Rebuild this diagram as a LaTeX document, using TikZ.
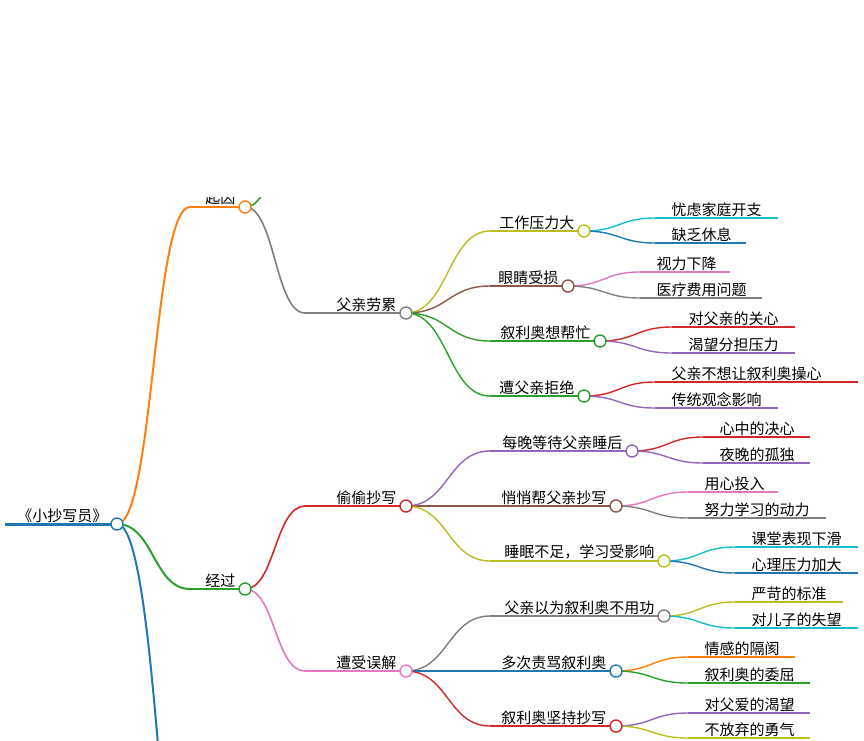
\documentclass[tikz,border=0pt]{standalone}
\usepackage{fontspec}
\setmainfont{Noto Sans CJK SC}
\usetikzlibrary{calc}
\definecolor{cblue}{HTML}{1F77B4}
\definecolor{corange}{HTML}{FF7F0E}
\definecolor{cgreen}{HTML}{2CA02C}
\definecolor{cred}{HTML}{D62728}
\definecolor{cpurple}{HTML}{9467BD}
\definecolor{cbrown}{HTML}{8C564B}
\definecolor{cpink}{HTML}{E377C2}
\definecolor{cgray}{HTML}{7F7F7F}
\definecolor{colive}{HTML}{BCBD22}
\definecolor{ccyan}{HTML}{17BECF}
\newcommand\mmbranch[7]{% name x1 x2 y color width text
  \coordinate (#1-s) at (#2,#4);
  \coordinate (#1) at (#3,#4);
  \draw[#5,line width=#6] (#1-s) -- (#1);
  \node[lbl,anchor=south east] (#1-t) at ({#3-8},#4) {#7};}
\newcommand\mmleaf[6]{% name x1 x2 y color text
  \coordinate (#1-s) at (#2,#4);
  \coordinate (#1) at (#3,#4);
  \draw[#5,line width=1.4pt] (#1-s) -- (#1);
  \node[lbl,anchor=south west] (#1-t) at ({#2+15},#4) {#6};}
\newcommand\mmconn[4]{% parent child color width
  \draw[#3,line width=#4] let \p1=(#1), \p2=(#2-s) in
    (\p1) .. controls ({0.5*\x1+0.5*\x2},\y1) and ({0.5*\x1+0.5*\x2},\y2) .. (\p2);}
\newcommand\mmdot[2]{\draw[#2,line width=1.4pt,fill=white] (#1) circle (6);}
\begin{document}
\begin{tikzpicture}[x=1pt,y=-1pt,lbl/.style={inner sep=1.5pt,font=\fontsize{15}{17}\selectfont}]
\useasboundingbox (0,0) rectangle (864,740);
\fill[white] (0,0) rectangle (864,740);
\clip (0,197) rectangle (864,740);
% nodes
\mmbranch{root}{5}{117}{524}{cblue}{3pt}{《小抄写员》}
\mmbranch{qy}{190}{245}{207}{corange}{2pt}{起因}
\coordinate (qy2-s) at (305,120);
\mmbranch{fq}{305}{406}{313}{cgray}{1.6pt}{父亲劳累}
\mmbranch{gz}{490}{584}{231}{colive}{1.4pt}{工作压力大}
\mmbranch{yj}{490}{568}{286}{cbrown}{1.4pt}{眼睛受损}
\mmbranch{xl}{490}{600}{341}{cgreen}{1.4pt}{叙利奥想帮忙}
\mmbranch{zf}{490}{584}{396}{cgreen}{1.4pt}{遭父亲拒绝}
\mmleaf{a1}{655}{778}{218}{ccyan}{忧虑家庭开支}
\mmleaf{a2}{655}{746}{243}{cblue}{缺乏休息}
\mmleaf{b1}{640}{730}{272}{cpink}{视力下降}
\mmleaf{b2}{640}{762}{298}{cgray}{医疗费用问题}
\mmleaf{c1}{672}{795}{327}{cred}{对父亲的关心}
\mmleaf{c2}{672}{795}{353}{cpurple}{渴望分担压力}
\mmleaf{d1}{655}{858}{382}{cred}{父亲不想让叙利奥操心}
\mmleaf{d2}{655}{778}{408}{cpurple}{传统观念影响}
\mmbranch{jg}{190}{245}{589}{cgreen}{2pt}{经过}
\mmbranch{tt}{305}{406}{506}{cred}{1.6pt}{偷偷抄写}
\mmbranch{mw}{490}{632}{451}{cpurple}{1.4pt}{每晚等待父亲睡后}
\mmbranch{qq}{490}{616}{506}{cbrown}{1.4pt}{悄悄帮父亲抄写}
\mmbranch{sm}{490}{664}{561}{colive}{1.4pt}{睡眠不足，学习受影响}
\mmleaf{e1}{703}{810}{437}{cred}{心中的决心}
\mmleaf{e2}{703}{810}{463}{cpurple}{夜晚的孤独}
\mmleaf{f1}{688}{778}{492}{cpink}{用心投入}
\mmleaf{f2}{688}{826}{518}{cgray}{努力学习的动力}
\mmleaf{g1}{735}{858}{547}{ccyan}{课堂表现下滑}
\mmleaf{g2}{735}{858}{573}{cblue}{心理压力加大}
\mmbranch{wj}{305}{406}{671}{cpink}{1.6pt}{遭受误解}
\mmbranch{fy}{490}{664}{616}{cgray}{1.4pt}{父亲以为叙利奥不用功}
\mmbranch{dc}{490}{616}{671}{cblue}{1.4pt}{多次责骂叙利奥}
\mmbranch{jc}{490}{616}{726}{cred}{1.4pt}{叙利奥坚持抄写}
\mmleaf{h1}{735}{843}{602}{colive}{严苛的标准}
\mmleaf{h2}{735}{858}{628}{ccyan}{对儿子的失望}
\mmleaf{i1}{688}{795}{657}{corange}{情感的隔阂}
\mmleaf{i2}{688}{810}{683}{cgreen}{叙利奥的委屈}
\mmleaf{j1}{688}{810}{713}{cpurple}{对父爱的渴望}
\mmleaf{j2}{688}{810}{738}{colive}{不放弃的勇气}
\coordinate (jx-s) at (210,1100);
% connectors
\mmconn{root}{qy}{corange}{2pt}
\mmconn{root}{jg}{cgreen}{2pt}
\mmconn{root}{jx}{cblue}{2pt}
\mmconn{qy}{qy2}{cgreen}{1.6pt}
\mmconn{qy}{fq}{cgray}{1.6pt}
\mmconn{fq}{gz}{colive}{1.4pt}
\mmconn{fq}{yj}{cbrown}{1.4pt}
\mmconn{fq}{xl}{cgreen}{1.4pt}
\mmconn{fq}{zf}{cgreen}{1.4pt}
\mmconn{gz}{a1}{ccyan}{1.4pt}
\mmconn{gz}{a2}{cblue}{1.4pt}
\mmconn{yj}{b1}{cpink}{1.4pt}
\mmconn{yj}{b2}{cgray}{1.4pt}
\mmconn{xl}{c1}{cred}{1.4pt}
\mmconn{xl}{c2}{cpurple}{1.4pt}
\mmconn{zf}{d1}{cred}{1.4pt}
\mmconn{zf}{d2}{cpurple}{1.4pt}
\mmconn{jg}{tt}{cred}{1.6pt}
\mmconn{jg}{wj}{cpink}{1.6pt}
\mmconn{tt}{mw}{cpurple}{1.4pt}
\mmconn{tt}{qq}{cbrown}{1.4pt}
\mmconn{tt}{sm}{colive}{1.4pt}
\mmconn{mw}{e1}{cred}{1.4pt}
\mmconn{mw}{e2}{cpurple}{1.4pt}
\mmconn{qq}{f1}{cpink}{1.4pt}
\mmconn{qq}{f2}{cgray}{1.4pt}
\mmconn{sm}{g1}{ccyan}{1.4pt}
\mmconn{sm}{g2}{cblue}{1.4pt}
\mmconn{wj}{fy}{cgray}{1.4pt}
\mmconn{wj}{dc}{cblue}{1.4pt}
\mmconn{wj}{jc}{cred}{1.4pt}
\mmconn{fy}{h1}{colive}{1.4pt}
\mmconn{fy}{h2}{ccyan}{1.4pt}
\mmconn{dc}{i1}{corange}{1.4pt}
\mmconn{dc}{i2}{cgreen}{1.4pt}
\mmconn{jc}{j1}{cpurple}{1.4pt}
\mmconn{jc}{j2}{colive}{1.4pt}
% circles
\mmdot{root}{cblue}
\mmdot{qy}{corange}
\mmdot{fq}{cgray}
\mmdot{gz}{colive}
\mmdot{yj}{cbrown}
\mmdot{xl}{cgreen}
\mmdot{zf}{cgreen}
\mmdot{jg}{cgreen}
\mmdot{tt}{cred}
\mmdot{mw}{cpurple}
\mmdot{qq}{cbrown}
\mmdot{sm}{colive}
\mmdot{wj}{cpink}
\mmdot{fy}{cgray}
\mmdot{dc}{cblue}
\mmdot{jc}{cred}
\end{tikzpicture}
\end{document}
